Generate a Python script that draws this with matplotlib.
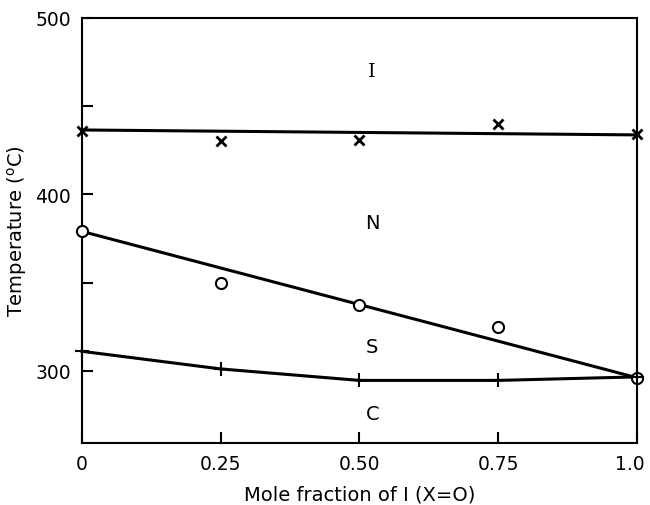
import numpy as np
import matplotlib.pyplot as plt
import matplotlib.transforms as mtransforms

# mole fraction of I
x_pts = [0.0, 0.25, 0.50, 0.75, 1.0]

# transition temperatures (C)
t_ni_pts = [436, 430, 431, 440, 434]   # x markers (N-I)
t_sn_pts = [379, 350, 337, 325, 296]   # circles (S-N)
t_cs_pts = [311, 301, 294.5, 294.5, 296.5]   # plus (C-S)

# fitted lines
ni_line_x = [0.0, 1.0]
ni_line_y = [436.5, 433.7]
sn_line_x = [0.0, 1.0]
sn_line_y = [379, 296]

regions = ['I', 'N', 'S', 'C']
region_y = [470, 384, 313.5, 275.5]

fig = plt.figure(figsize=(6.5, 5.06), dpi=100)
ax = fig.add_axes([0.126, 0.1225, 0.854, 0.84])

ax.plot(ni_line_x, ni_line_y, color='black', lw=2.2, clip_on=False)
ax.plot(sn_line_x, sn_line_y, color='black', lw=2.2, clip_on=False)
ax.plot(x_pts, t_cs_pts, color='black', lw=2.2, clip_on=False)

ax.plot(x_pts, t_ni_pts, ls='none', marker='x', ms=7, mew=2, color='black', clip_on=False)
ax.plot(x_pts, t_sn_pts, ls='none', marker='o', ms=8, mew=1.5, mfc='white', mec='black', clip_on=False, zorder=3)
ax.plot(x_pts, t_cs_pts, ls='none', marker='+', ms=10, mew=1.5, color='black', clip_on=False, zorder=4)

for lab, yy in zip(regions, region_y):
    ax.text(0.523, yy, lab, ha='center', va='center', fontsize=14,
            family='DejaVu Serif' if lab == 'I' else 'DejaVu Sans')

ax.set_xlim(0, 1.0)
ax.set_ylim(259, 500)
ax.set_xticks([0, 0.25, 0.5, 0.75, 1.0])
ax.set_xticklabels(['0', '0.25', '0.50', '0.75', '1.0'])
ax.set_yticks([300, 400, 500])
ax.set_yticks([350, 450], minor=True)
ax.tick_params(axis='both', which='both', direction='in', length=8, width=1.5,
               labelsize=13.5, top=False, right=False, pad=8)
for s in ax.spines.values():
    s.set_linewidth(1.5)

# keep the last x label inside the figure
last = ax.get_xticklabels()[-1]
last.set_transform(last.get_transform() + mtransforms.ScaledTranslation(-5 / 72, 0, fig.dpi_scale_trans))

ax.set_xlabel('Mole fraction of I (X=O)', fontsize=14, labelpad=8)
ax.set_ylabel('Temperature ($^{\\mathrm{o}}$C)', fontsize=14, labelpad=4)

plt.savefig('out.png', dpi=100)
